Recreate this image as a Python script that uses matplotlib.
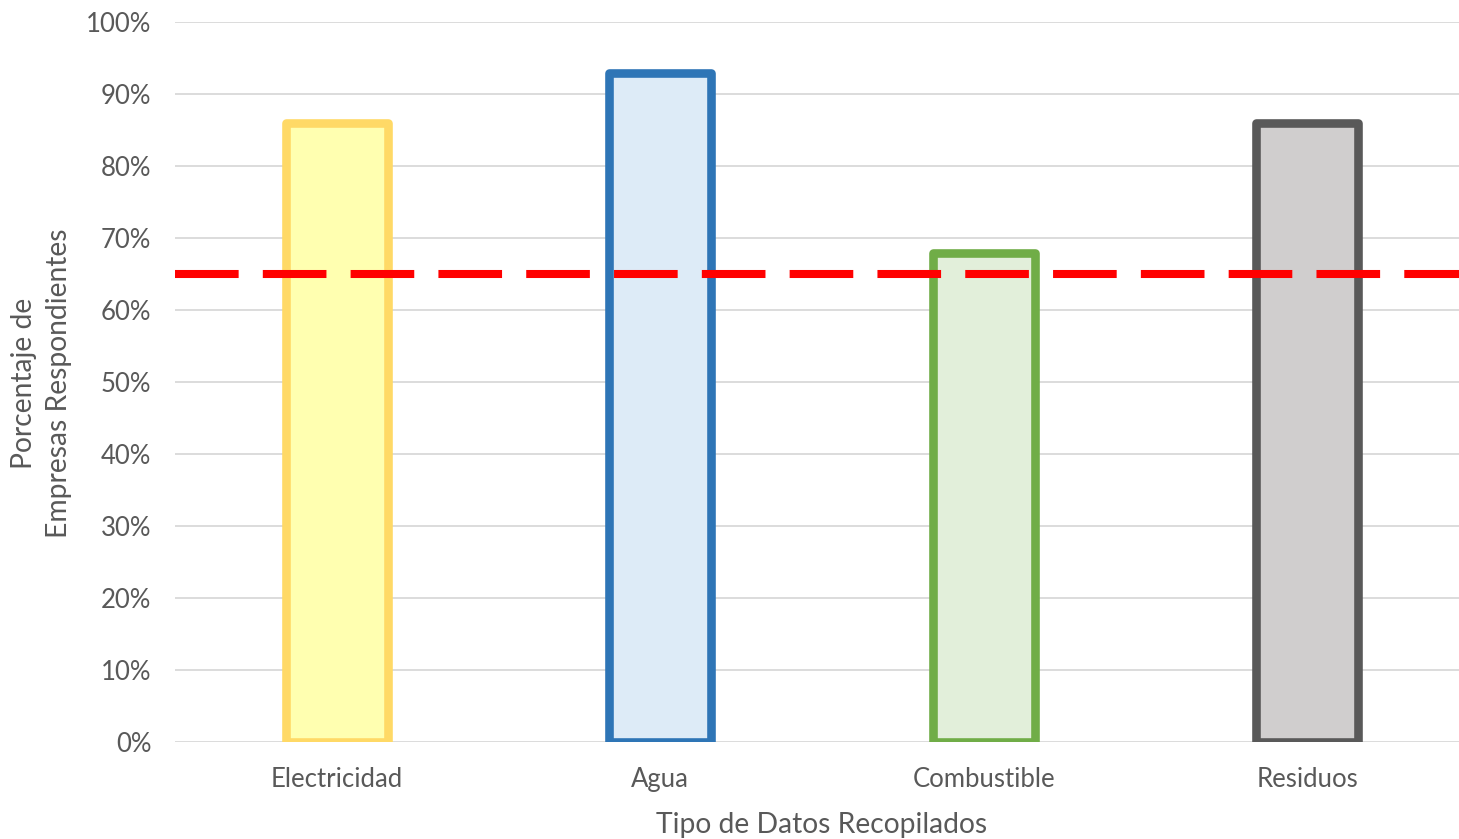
import matplotlib
matplotlib.use("Agg")
import matplotlib.pyplot as plt
from matplotlib.ticker import FuncFormatter

categories = ["Electricidad", "Agua", "Combustible", "Residuos"]
values = [86, 93, 68, 86]
threshold = 65
fill_colors = ["#FFFFB0", "#DDEBF7", "#E2EFDA", "#D0CECE"]
edge_colors = ["#FFD966", "#2E75B6", "#70AD47", "#595959"]
yticks = list(range(0, 101, 10))

plt.rcParams['font.family'] = ['Lato', 'DejaVu Sans']
text_color = "#595959"

fig = plt.figure(figsize=(14.59, 8.39), dpi=100)
ax = fig.add_axes([175/1459, 1-742.3/839, (1469-175)/1459, (742.3-22.3)/839])

x = list(range(len(categories)))
ax.bar(x, values, width=0.315, color=fill_colors, edgecolor=edge_colors,
       linewidth=6.2, zorder=3, joinstyle='round')
ax.axhline(threshold, color="#FF0000", linewidth=5.8, dashes=(7.9, 3.0), zorder=4)

ax.set_xlim(-0.5, len(categories) - 0.5)
ax.set_ylim(0, 100)
ax.set_yticks(yticks)
ax.yaxis.set_major_formatter(FuncFormatter(lambda v, p: f"{int(v)}%"))
ax.set_xticks(x)
ax.set_xticklabels(categories)
ax.grid(axis='y', color="#D9D9D9", linewidth=1.3, zorder=0)
ax.set_axisbelow(True)
for s in ax.spines.values():
    s.set_visible(False)
ax.tick_params(axis='both', length=0, colors=text_color, labelsize=18.5)
ax.tick_params(axis='y', pad=17)
ax.tick_params(axis='x', pad=18)

ax.set_xlabel("Tipo de Datos Recopilados", fontsize=20.3, color=text_color, labelpad=14)
fig.text(41.5/1459, 1-383/839, "Porcentaje de\nEmpresas Respondientes", rotation=90,
         ha='center', va='center', fontsize=20.3, color=text_color, linespacing=1.45)

fig.savefig("out.png", dpi=100)
